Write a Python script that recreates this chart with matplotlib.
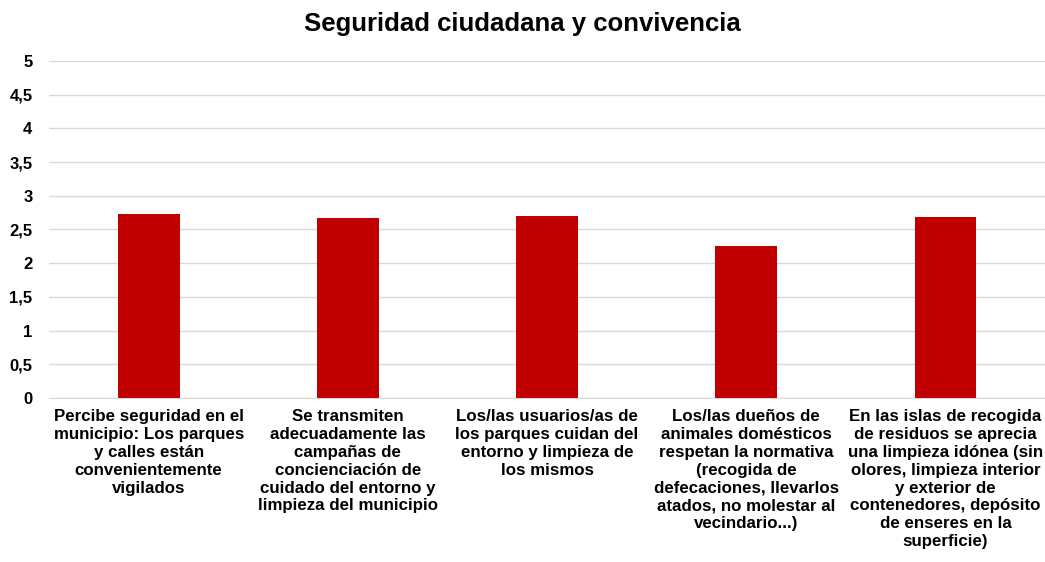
import numpy as np
from matplotlib import pyplot as plt

plt.rcParams['font.family'] = ['Liberation Sans', 'DejaVu Sans']

# datos de la gráfica
categorias = [
    "Percibe seguridad en el\nmunicipio: Los parques\ny calles están\nconvenientemente\nvigilados",
    "Se transmiten\nadecuadamente las\ncampañas de\nconcienciación de\ncuidado del entorno y\nlimpieza del municipio",
    "Los/las usuarios/as de\nlos parques cuidan del\nentorno y limpieza de\nlos mismos",
    "Los/las dueños de\nanimales domésticos\nrespetan la normativa\n(recogida de\ndefecaciones, llevarlos\natados, no molestar al\nvecindario...)",
    "En las islas de recogida\nde residuos se aprecia\nuna limpieza idónea (sin\nolores, limpieza interior\ny exterior de\ncontenedores, depósito\nde enseres en la\nsuperficie)",
]
valores = [2.73, 2.67, 2.70, 2.25, 2.68]
yticks = [0, 0.5, 1, 1.5, 2, 2.5, 3, 3.5, 4, 4.5, 5]

fig = plt.figure(figsize=(10.45, 5.62), dpi=100)
ax = fig.add_axes([0.047, 0.292, 0.953, 0.5995])

x = np.arange(len(valores))
ax.bar(x, valores, width=0.31, color="#C00000", zorder=3)

ax.set_xlim(-0.5, len(valores) - 0.5)
ax.set_ylim(0, 5)
ax.set_yticks(yticks)
ax.set_yticklabels([str(v).replace(".", ",").replace(",0", "") for v in yticks],
                   fontsize=12, fontweight="bold")
ax.set_xticks(x)
ax.set_xticklabels(categorias, fontsize=12.2, fontweight="bold", linespacing=1.24, va="top")
ax.tick_params(length=0)
ax.tick_params(axis="x", pad=8)
ax.tick_params(axis="y", pad=12)

ax.grid(axis="y", color="#d9d9d9", linewidth=1, zorder=0)
for s in ["top", "right", "left"]:
    ax.spines[s].set_visible(False)
ax.spines["bottom"].set_color("#d9d9d9")

fig.text(0.5, 0.958, "Seguridad ciudadana y convivencia", ha="center", va="center",
         fontsize=18.5, fontweight="bold")

plt.savefig("out.png", dpi=100)
